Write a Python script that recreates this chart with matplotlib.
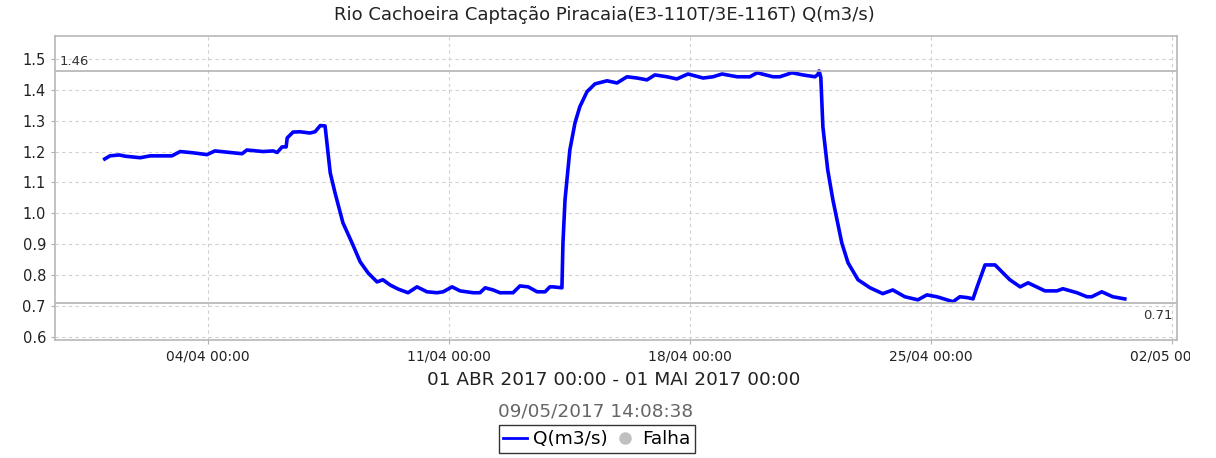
import numpy as np
import pandas as pd
import matplotlib
matplotlib.use("Agg")
import matplotlib.pyplot as plt
import matplotlib.dates as mdates
from matplotlib.lines import Line2D
from matplotlib.transforms import Bbox, TransformedBbox

# dados (dias desde 01/04/2017 00:00, vazão m3/s)
dias = [0.0, 0.15, 0.42, 0.59, 1.03, 1.32, 1.95, 2.19, 2.56, 2.97, 3.20, 3.73, 3.99,
        4.13, 4.60, 4.89, 5.01, 5.15, 5.27, 5.30, 5.47, 5.67, 5.96, 6.11, 6.26, 6.40,
        6.55, 6.69, 6.92, 7.18, 7.42, 7.65, 7.91, 8.08, 8.29, 8.52, 8.81, 9.07, 9.36,
        9.65, 9.83, 10.09, 10.32, 10.70, 10.90, 11.05, 11.28, 11.48, 11.71, 11.86,
        12.06, 12.30, 12.56, 12.79, 12.93, 13.02, 13.28, 13.31, 13.37, 13.51, 13.66,
        13.80, 14.01, 14.24, 14.59, 14.88, 15.17, 15.46, 15.75, 15.98, 16.33, 16.62,
        16.94, 17.38, 17.67, 17.93, 18.37, 18.74, 18.95, 19.41, 19.61, 19.96, 20.28,
        20.63, 20.72, 20.75, 20.80, 20.86, 21.00, 21.15, 21.41, 21.59, 21.88, 22.23,
        22.60, 22.89, 23.24, 23.62, 23.88, 24.17, 24.64, 24.84, 25.07, 25.22, 25.34,
        25.57, 25.86, 26.29, 26.59, 26.82, 27.31, 27.66, 27.83, 28.24, 28.53, 28.67,
        28.96, 29.28, 29.63]
vazao = [1.176, 1.186, 1.189, 1.185, 1.180, 1.186, 1.186, 1.200, 1.196, 1.190, 1.202,
         1.196, 1.193, 1.205, 1.200, 1.202, 1.197, 1.215, 1.215, 1.244, 1.263, 1.264,
         1.260, 1.264, 1.284, 1.283, 1.131, 1.066, 0.969, 0.905, 0.843, 0.807, 0.778,
         0.785, 0.768, 0.755, 0.743, 0.762, 0.746, 0.743, 0.746, 0.762, 0.749, 0.743,
         0.743, 0.759, 0.752, 0.743, 0.743, 0.743, 0.765, 0.762, 0.746, 0.746, 0.762,
         0.762, 0.759, 0.904, 1.044, 1.205, 1.293, 1.345, 1.394, 1.419, 1.429, 1.422,
         1.442, 1.438, 1.432, 1.448, 1.442, 1.435, 1.451, 1.438, 1.442, 1.451, 1.442,
         1.442, 1.455, 1.442, 1.442, 1.455, 1.448, 1.442, 1.450, 1.461, 1.440, 1.280,
         1.141, 1.044, 0.904, 0.840, 0.785, 0.759, 0.740, 0.752, 0.730, 0.720, 0.736,
         0.730, 0.714, 0.730, 0.727, 0.723, 0.762, 0.833, 0.833, 0.785, 0.762, 0.775,
         0.749, 0.749, 0.756, 0.743, 0.730, 0.730, 0.746, 0.730, 0.723]

inicio = pd.Timestamp("2017-04-01 00:00")
tempo = [inicio + pd.Timedelta(days=d) for d in dias]

ticks_x = ["2017-04-04", "2017-04-11", "2017-04-18", "2017-04-25", "2017-05-02"]
ticks_y = [0.6, 0.7, 0.8, 0.9, 1.0, 1.1, 1.2, 1.3, 1.4, 1.5]
maximo = 1.46
minimo = 0.71

titulo = "Rio Cachoeira Captação Piracaia(E3-110T/3E-116T) Q(m3/s)"
periodo = "01 ABR 2017 00:00 - 01 MAI 2017 00:00"
gerado = "09/05/2017 14:08:38"

fig = plt.figure(figsize=(12.16, 4.58), dpi=100)
ax = fig.add_axes([55 / 1216, 1 - 340 / 458, 1122 / 1216, 304 / 458])

ax.plot(tempo, vazao, color="#0000ff", lw=2.6, solid_joinstyle="round")

# linhas de máximo e mínimo
ax.axhline(maximo, color="#b4b4b4", lw=1.2)
ax.axhline(minimo, color="#b4b4b4", lw=1.2)
ax.text(0.004, maximo + 0.012, f"{maximo:.2f}", transform=ax.get_yaxis_transform(),
        fontsize=9.5, color="#333333", ha="left", va="bottom")
ax.text(0.996, minimo - 0.02, f"{minimo:.2f}", transform=ax.get_yaxis_transform(),
        fontsize=9.5, color="#333333", ha="right", va="top")

ax.set_xlim(pd.Timestamp("2017-03-30 13:20"), pd.Timestamp("2017-05-02 03:30"))
ax.set_ylim(0.59, 1.574)
ax.set_xticks([pd.Timestamp(t) for t in ticks_x])
ax.xaxis.set_major_formatter(mdates.DateFormatter("%d/%m %H:%M"))
ax.set_yticks(ticks_y)
ax.set_yticklabels([f"{v:.1f}" for v in ticks_y])

ax.grid(True, color="#d0d0d0", linestyle=(0, (3, 3)), lw=0.8)
for s in ax.spines.values():
    s.set_color("#b8b8b8")
    s.set_linewidth(1.2)
ax.tick_params(axis="both", colors="#b0b0b0", length=3, labelcolor="#222222")
ax.tick_params(axis="y", labelsize=10.5)
ax.tick_params(axis="x", labelsize=10)

fig.text(0.497, 1 - 15 / 458, titulo, ha="center", va="center", fontsize=13, color="#222222")
fig.text(0.505, 1 - 380 / 458, periodo, ha="center", va="center", fontsize=13.3, color="#222222")
fig.text(0.49, 1 - 411 / 458, gerado, ha="center", va="center", fontsize=13.3, color="#666666")

handles = [Line2D([], [], color="#0000ff", lw=2),
           Line2D([], [], color="#c0c0c0", marker="o", lw=0, markersize=8)]
leg = fig.legend(handles, ["Q(m3/s)", "Falha"], loc="center", ncol=2,
                 bbox_to_anchor=(597 / 1216, 1 - 439 / 458), fontsize=13.3, frameon=True,
                 fancybox=False, edgecolor="black", handlelength=1.3, handletextpad=0.3,
                 columnspacing=0.3, borderpad=0.25, borderaxespad=0)
leg.get_frame().set_linewidth(1.0)

# o último rótulo do eixo x aparece cortado na borda
fig.canvas.draw()
caixa = TransformedBbox(Bbox([[0, 0], [1190 / 1216, 1]]), fig.transFigure)
for lbl in ax.get_xticklabels():
    lbl.set_clip_box(caixa)
    lbl.set_clip_on(True)

fig.savefig("out.png", dpi=100)
